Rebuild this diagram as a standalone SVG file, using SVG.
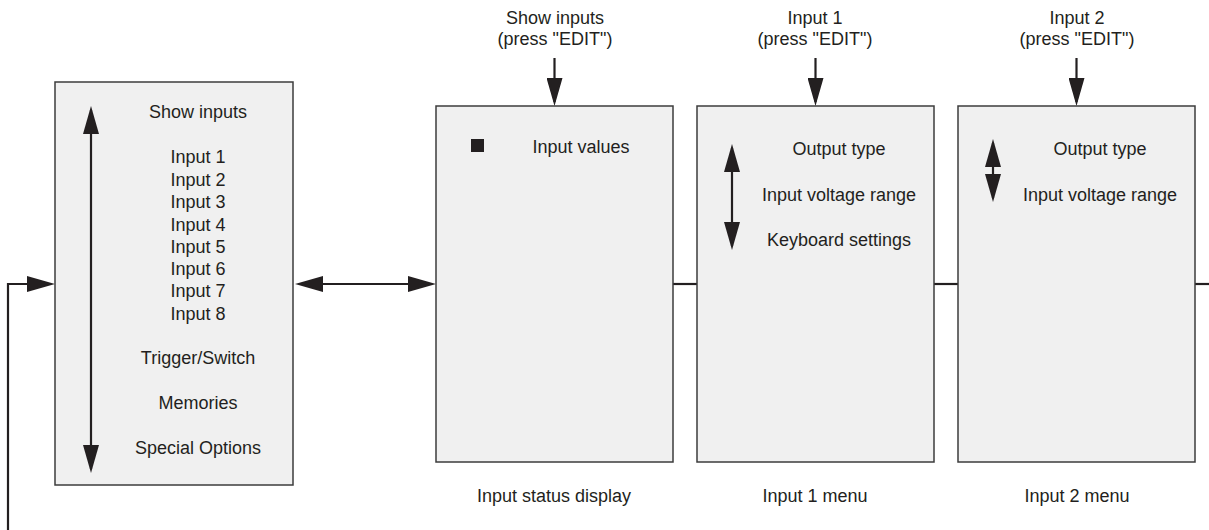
<svg xmlns="http://www.w3.org/2000/svg" width="1209" height="530" viewBox="0 0 1209 530">
  <style>
    text { font-family: "Liberation Sans", Arial, sans-serif; font-size: 18px; fill: #231f20; text-anchor: middle; }
    .box { fill: #f0f0f0; stroke: #3c3c3c; stroke-width: 1.5; }
    .wire { fill: none; stroke: #231f20; stroke-width: 2.2; }
  </style>
  <defs>
    <marker id="head" markerUnits="userSpaceOnUse" markerWidth="28" markerHeight="16" refX="24" refY="8" orient="auto-start-reverse">
      <path d="M0,0 L28,8 L0,16 z" fill="#231f20"/>
    </marker>
  </defs>

  <!-- connectors -->
  <g id="connectors">
    <path class="wire" d="M8,530 V284 H51" marker-end="url(#head)"/>
    <line class="wire" x1="299" y1="284" x2="432" y2="284" marker-start="url(#head)" marker-end="url(#head)"/>
    <line class="wire" x1="673" y1="284" x2="697" y2="284"/>
    <line class="wire" x1="934" y1="284" x2="958" y2="284"/>
    <line class="wire" x1="1195" y1="284" x2="1209" y2="284"/>
    <line class="wire" x1="554.5" y1="58" x2="554.5" y2="102" marker-end="url(#head)"/>
    <line class="wire" x1="815.5" y1="58" x2="815.5" y2="102" marker-end="url(#head)"/>
    <line class="wire" x1="1076.5" y1="58" x2="1076.5" y2="102" marker-end="url(#head)"/>
  </g>

  <!-- main menu -->
  <g id="main-menu">
    <rect class="box" x="55" y="82" width="238" height="403"/>
    <line class="wire" x1="91" y1="110" x2="91" y2="469" marker-start="url(#head)" marker-end="url(#head)"/>
    <text x="198" y="118">Show inputs</text>
    <text x="198" y="163">Input 1</text>
    <text x="198" y="186">Input 2</text>
    <text x="198" y="208">Input 3</text>
    <text x="198" y="231">Input 4</text>
    <text x="198" y="253">Input 5</text>
    <text x="198" y="275">Input 6</text>
    <text x="198" y="297">Input 7</text>
    <text x="198" y="320">Input 8</text>
    <text x="198" y="364">Trigger/Switch</text>
    <text x="198" y="409">Memories</text>
    <text x="198" y="454">Special Options</text>
  </g>

  <!-- input status display -->
  <g id="status-display">
    <text x="555" y="23.5">Show inputs</text>
    <text x="555" y="45">(press "EDIT")</text>
    <rect class="box" x="436" y="106" width="237" height="356"/>
    <rect x="471" y="139" width="13" height="13" fill="#231f20"/>
    <text x="581" y="153">Input values</text>
    <text x="554" y="502">Input status display</text>
  </g>

  <!-- input 1 menu -->
  <g id="input1-menu">
    <text x="815" y="23.5">Input 1</text>
    <text x="815" y="45">(press "EDIT")</text>
    <rect class="box" x="697" y="106" width="237" height="356"/>
    <line class="wire" x1="732" y1="148" x2="732" y2="246" marker-start="url(#head)" marker-end="url(#head)"/>
    <text x="839" y="155">Output type</text>
    <text x="839" y="201">Input voltage range</text>
    <text x="839" y="246">Keyboard settings</text>
    <text x="815" y="502">Input 1 menu</text>
  </g>

  <!-- input 2 menu -->
  <g id="input2-menu">
    <text x="1077" y="23.5">Input 2</text>
    <text x="1077" y="45">(press "EDIT")</text>
    <rect class="box" x="958" y="106" width="237" height="356"/>
    <line class="wire" x1="993" y1="143" x2="993" y2="198" marker-start="url(#head)" marker-end="url(#head)"/>
    <text x="1100" y="155">Output type</text>
    <text x="1100" y="201">Input voltage range</text>
    <text x="1077" y="502">Input 2 menu</text>
  </g>
</svg>
